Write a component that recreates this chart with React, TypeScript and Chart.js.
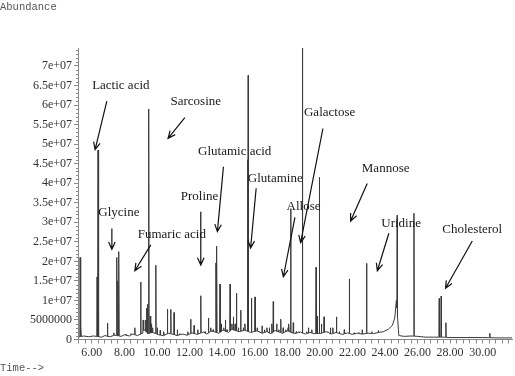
import React, { useEffect, useRef } from "react";
import { Chart, registerables } from "chart.js";
Chart.register(...registerables);

// Baseline of the chromatogram (retention time in min, abundance)
const baselineTimes = [
  5.2, 5.5, 5.8, 6.1, 6.6, 6.8, 7.1, 7.4, 7.8, 8.0, 8.3, 8.5, 8.8, 9.1, 9.2, 9.45, 9.75,
  10.1, 10.4, 10.7, 11.0, 11.25, 11.55, 11.85, 12.15, 12.45, 12.85, 13.05, 13.35, 13.8,
  14.05, 14.4, 14.6, 15.05, 15.4, 15.75, 16.15, 16.45, 16.75, 17.0, 17.25, 17.7, 18.0,
  18.45, 18.8, 19.1, 19.4, 19.65, 20.1, 20.4, 20.7, 21.0, 21.4, 21.7, 22.0, 22.3, 22.6,
  23.0, 23.3, 23.6, 23.9, 24.2, 24.45, 24.6, 24.7, 24.85, 25.2, 25.6, 26.0, 26.5, 27.0,
  27.6, 28.0, 29.0, 30.0, 31.0, 31.8,
];
const baselineValues = [
  0.6e6, 0.9e6, 0.7e6, 0.9e6, 0.6e6, 1.0e6, 0.7e6, 1.1e6, 0.8e6, 1.2e6, 0.9e6, 1.4e6, 1.0e6,
  1.6e6, 2.6e6, 1.5e6, 1.8e6, 1.2e6, 1.0e6, 1.6e6, 1.3e6, 1.0e6, 1.4e6, 1.1e6, 1.7e6, 1.3e6,
  1.9e6, 1.4e6, 2.2e6, 1.6e6, 2.4e6, 1.8e6, 2.6e6, 2.0e6, 2.4e6, 1.8e6, 2.2e6, 1.6e6, 2.0e6,
  1.5e6, 2.3e6, 1.6e6, 2.2e6, 1.5e6, 1.9e6, 1.4e6, 1.8e6, 1.5e6, 1.6e6, 2.0e6, 1.4e6, 1.8e6,
  1.3e6, 1.7e6, 1.3e6, 1.6e6, 1.4e6, 1.6e6, 1.5e6, 1.8e6, 2.0e6, 2.6e6, 3.6e6, 5.5e6, 10e6,
  1.0e6, 0.8e6, 0.9e6, 0.8e6, 0.6e6, 0.6e6, 0.6e6, 0.5e6, 0.5e6, 0.5e6, 0.4e6, 0.4e6,
];

// Peaks (retention time in min, apex abundance)
const peakTimes = [
  5.28, 5.33, 6.32, 6.38, 6.42, 6.96, 7.35, 7.53, 7.6, 7.66, 8.1, 8.4, 8.64, 9.0, 9.15, 9.3,
  9.37, 9.42, 9.5, 9.58, 9.65, 9.72, 9.93, 10.02, 10.2, 10.42, 10.64, 10.85, 11.05, 11.25,
  11.4, 11.7, 11.9, 12.07, 12.28, 12.5, 12.69, 12.95, 13.16, 13.3, 13.45, 13.62, 13.67,
  13.87, 13.95, 14.1, 14.2, 14.3, 14.49, 14.6, 14.69, 14.8, 14.88, 15.0, 15.14, 15.3, 15.4,
  15.57, 15.6, 15.8, 16.02, 16.15, 16.3, 16.45, 16.6, 16.75, 16.9, 17.05, 17.14, 17.35,
  17.48, 17.6, 17.75, 17.9, 18.05, 18.1, 18.21, 18.37, 18.55, 18.7, 18.93, 19.2, 19.3, 19.5,
  19.77, 19.85, 19.97, 20.1, 20.26, 20.5, 20.65, 20.8, 21.03, 21.2, 21.5, 21.81, 22.1, 22.4,
  22.6, 22.87, 23.2, 23.59, 24.75, 25.78, 27.33, 27.45, 27.74, 30.44,
];
const peakHeights = [
  21e6, 3.3e6, 16e6, 48.5e6, 31e6, 4.2e6, 1.7e6, 21e6, 15e6, 22.5e6, 1.3e6, 1.5e6, 3e6,
  14.7e6, 5e6, 5e6, 8e6, 9e6, 59e6, 6e6, 4e6, 3e6, 19e6, 3e6, 2.4e6, 2e6, 7.8e6, 7.7e6,
  6.9e6, 2.5e6, 1.5e6, 1.2e6, 2e6, 5.2e6, 3.6e6, 2.5e6, 11.2e6, 2e6, 5.5e6, 3e6, 2.5e6,
  19.6e6, 23.9e6, 14.2e6, 4e6, 3e6, 5e6, 2.5e6, 14.2e6, 4e6, 5.8e6, 4e6, 11.9e6, 3e6, 7.5e6,
  3e6, 4e6, 46e6, 67.6e6, 10.6e6, 10.9e6, 3e6, 2e6, 3.5e6, 2.5e6, 3e6, 3e6, 4e6, 9.7e6,
  4e6, 2.5e6, 5.2e6, 3e6, 2.5e6, 3e6, 4e6, 33.5e6, 4.3e6, 2e6, 2e6, 76e6, 2e6, 3e6, 2.5e6,
  18.5e6, 6e6, 41.5e6, 4e6, 5.8e6, 2e6, 3e6, 3e6, 5.8e6, 2e6, 2.5e6, 15.5e6, 1.7e6, 1.8e6,
  2.5e6, 19.5e6, 2e6, 2.3e6, 31.8e6, 32.3e6, 10.5e6, 11.1e6, 4.3e6, 1.6e6,
];

// Compound annotations (label position and arrow, in data units)
const labelNames = [
  "Lactic acid", "Sarcosine", "Glutamic acid", "Glutamine", "Proline", "Glycine",
  "Fumaric acid", "Galactose", "Allose", "Mannose", "Uridine", "Cholesterol",
];
const labelTimes = [7.78, 12.38, 14.77, 17.26, 12.61, 7.66, 10.91, 20.6, 19.0, 24.04, 24.99, 29.36];
const labelValues = [65.1e6, 60.8e6, 48.0e6, 41.2e6, 36.7e6, 32.4e6, 26.9e6, 58.0e6, 34.0e6, 43.8e6, 29.7e6, 28.2e6];
const arrowFromTimes = [6.92, 11.71, 14.08, 16.09, 12.69, 7.23, 9.62, 20.19, 18.47, 22.91, 24.24, 29.36];
const arrowFromValues = [61.0e6, 56.8e6, 44.2e6, 38.7e6, 32.7e6, 28.4e6, 24.2e6, 54.0e6, 31.25e6, 39.9e6, 27.2e6, 25.2e6];
const arrowToTimes = [6.2, 10.68, 13.71, 15.75, 12.69, 7.23, 8.64, 18.82, 17.76, 21.89, 23.53, 27.72];
const arrowToValues = [48.6e6, 51.5e6, 27.6e6, 23.4e6, 19.05e6, 23.1e6, 17.6e6, 24.8e6, 16.06e6, 30.3e6, 17.6e6, 13.1e6];

const yTickValues = [0, 5e6, 10e6, 15e6, 20e6, 25e6, 30e6, 35e6, 40e6, 45e6, 50e6, 55e6, 60e6, 65e6, 70e6];
const xLabelValues = [6, 8, 10, 12, 14, 16, 18, 20, 22, 24, 26, 28, 30];

const X_MIN = 5.15;
const X_MAX = 31.8;
const Y_MAX = 74.6e6;

function baseAt(t: number): number {
  if (t <= baselineTimes[0]) return baselineValues[0];
  for (let i = 1; i < baselineTimes.length; i++) {
    if (t <= baselineTimes[i]) {
      const t0 = baselineTimes[i - 1];
      const t1 = baselineTimes[i];
      const f = (t - t0) / (t1 - t0);
      return baselineValues[i - 1] + f * (baselineValues[i] - baselineValues[i - 1]);
    }
  }
  return baselineValues[baselineValues.length - 1];
}

function buildTrace() {
  const pts: { x: number; y: number }[] = [];
  baselineTimes.forEach((t, i) => pts.push({ x: t, y: baselineValues[i] }));
  const w = 0.018;
  peakTimes.forEach((t, i) => {
    pts.push({ x: t - w, y: baseAt(t - w) });
    pts.push({ x: t, y: peakHeights[i] });
    pts.push({ x: t + w, y: baseAt(t + w) });
  });
  pts.sort((a, b) => a.x - b.x);
  return pts;
}

function fmtY(v: number): string {
  if (v === 0) return "0";
  if (v === 5e6) return "5000000";
  return `${+(v / 1e7).toFixed(2)}e+07`;
}

const serif = "'Liberation Serif', 'Times New Roman', serif";

const overlayPlugin = {
  id: "overlay",
  afterDraw(chart: any) {
    const { ctx, scales, chartArea } = chart;
    const xs = scales.x;
    const ys = scales.y;
    ctx.save();
    // minor y ticks
    ctx.strokeStyle = "#888";
    ctx.lineWidth = 1;
    ctx.beginPath();
    for (let v = 1e6; v < Y_MAX; v += 1e6) {
      if (Math.round(v / 1e6) % 5 === 0) continue;
      const y = Math.round(ys.getPixelForValue(v)) + 0.5;
      ctx.moveTo(chartArea.left - 2, y);
      ctx.lineTo(chartArea.left, y);
    }
    ctx.stroke();

    // annotations
    ctx.fillStyle = "#1a1a1a";
    ctx.font = `13px ${serif}`;
    ctx.textAlign = "center";
    ctx.textBaseline = "middle";
    labelNames.forEach((name, i) => {
      ctx.fillText(name, xs.getPixelForValue(labelTimes[i]), ys.getPixelForValue(labelValues[i]));
    });
    ctx.strokeStyle = "#111";
    ctx.lineWidth = 1.2;
    labelNames.forEach((_, i) => {
      const x1 = xs.getPixelForValue(arrowFromTimes[i]);
      const y1 = ys.getPixelForValue(arrowFromValues[i]);
      const x2 = xs.getPixelForValue(arrowToTimes[i]);
      const y2 = ys.getPixelForValue(arrowToValues[i]);
      const ang = Math.atan2(y2 - y1, x2 - x1);
      const hl = 8;
      const spread = 0.42;
      ctx.beginPath();
      ctx.moveTo(x1, y1);
      ctx.lineTo(x2, y2);
      ctx.moveTo(x2 - hl * Math.cos(ang - spread), y2 - hl * Math.sin(ang - spread));
      ctx.lineTo(x2, y2);
      ctx.lineTo(x2 - hl * Math.cos(ang + spread), y2 - hl * Math.sin(ang + spread));
      ctx.stroke();
    });

    // axis captions
    ctx.fillStyle = "#555";
    ctx.font = "10.5px 'Liberation Mono', monospace";
    ctx.textAlign = "left";
    ctx.textBaseline = "top";
    ctx.fillText("Abundance", 0, 2);
    ctx.fillText("Time-->", 0, 363);
    ctx.restore();
  },
};

export default function App() {
  const ref = useRef<HTMLCanvasElement | null>(null);
  useEffect(() => {
    document.body.style.margin = "0";
    const canvas = ref.current;
    if (!canvas) return;
    const chart = new Chart(canvas, {
      type: "line",
      data: {
        datasets: [
          {
            data: buildTrace(),
            borderColor: "#3a3a3a",
            borderWidth: 1,
            pointRadius: 0,
            tension: 0,
            fill: false,
          },
        ],
      },
      options: {
        responsive: false,
        animation: false,
        devicePixelRatio: 1,
        layout: { padding: { top: 48, right: 3, left: 0, bottom: 0 } },
        plugins: { legend: { display: false }, tooltip: { enabled: false } },
        scales: {
          x: {
            type: "linear",
            min: X_MIN,
            max: X_MAX,
            afterBuildTicks: (s: any) => {
              const t: any[] = [];
              for (let k = 13; k <= 79; k++) t.push({ value: +(k * 0.4).toFixed(2) });
              s.ticks = t;
            },
            afterFit: (s: any) => {
              s.height = 36.5;
            },
            ticks: {
              autoSkip: false,
              maxRotation: 0,
              padding: 2,
              color: "#333",
              font: { family: serif, size: 12 },
              callback: (v: any) => (xLabelValues.includes(Math.round(v * 100) / 100) ? Number(v).toFixed(2) : ""),
            },
            grid: { drawOnChartArea: false, tickLength: 4, color: "#888" },
            border: { color: "#888" },
          },
          y: {
            type: "linear",
            min: 0,
            max: Y_MAX,
            afterBuildTicks: (s: any) => {
              s.ticks = yTickValues.map((v) => ({ value: v }));
            },
            afterFit: (s: any) => {
              s.width = 78;
            },
            ticks: {
              padding: 2,
              color: "#333",
              font: { family: serif, size: 12 },
              callback: (v: any) => fmtY(Number(v)),
            },
            grid: { drawOnChartArea: false, tickLength: 4, color: "#888" },
            border: { color: "#888" },
          },
        },
      },
      plugins: [overlayPlugin],
    });
    return () => chart.destroy();
  }, []);
  return <canvas ref={ref} width={515} height={376} style={{ display: "block" }} />;
}
